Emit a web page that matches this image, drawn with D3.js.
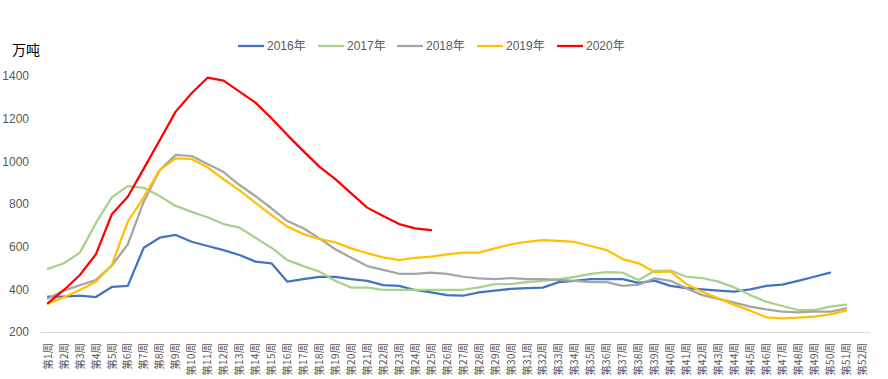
<!DOCTYPE html>
<html><head><meta charset="utf-8">
<script src="https://cdn.jsdelivr.net/npm/d3@7"></script>
<style>
body{margin:0;background:#fff;}
svg{display:block;font-family:"Liberation Sans","Noto Sans CJK SC",sans-serif;}
</style></head>
<body><svg id="chart" width="888" height="379"></svg>
<script>
const weeks = d3.range(1, 53).map(i => "第" + i + "周");
const seriesNames = ["2016年", "2017年", "2018年", "2019年", "2020年"];
const seriesColors = ["#4472C4", "#A9D18E", "#A5A5A5", "#FFC000", "#FF0000"];
const yTicks = [200, 400, 600, 800, 1000, 1200, 1400];

const v2016 = [366,366,370,364,411,416,595,642,655,623,603,584,561,530,522,436,448,458,458,448,440,420,416,397,386,373,370,386,394,402,406,408,434,440,448,448,448,430,441,416,406,400,394,389,400,416,422,440,459,478];
const v2017 = [496,522,572,710,831,884,876,837,791,763,738,706,689,642,595,537,509,483,440,408,408,397,397,397,397,397,398,409,424,424,434,440,448,458,472,481,478,444,486,488,459,453,436,409,373,342,322,303,303,319,328];
const v2018 = [357,394,419,444,511,611,811,959,1030,1025,988,950,889,837,780,720,686,639,588,548,509,491,473,473,478,472,459,451,448,453,448,448,444,440,434,434,416,422,451,440,405,373,355,338,319,306,295,292,295,295,311];
const v2019 = [333,363,397,436,514,717,831,959,1014,1011,972,916,864,805,748,694,659,636,620,592,569,550,537,548,553,564,572,572,592,611,623,631,627,622,603,584,542,522,481,484,424,389,358,327,300,269,264,267,272,283,300];
const v2020 = [335,397,467,564,752,834,966,1099,1233,1319,1392,1378,1327,1275,1202,1123,1048,975,917,850,783,744,706,686,678];
const allSeries = [v2016, v2017, v2018, v2019, v2020];

const svg = d3.select("#chart");
const x = d3.scaleBand().domain(weeks).range([40, 870]).padding(0);
const y = d3.scaleLinear().domain([200, 1400]).range([332, 76]);

// y axis
const yAxis = svg.append("g").attr("transform", "translate(29,0)")
  .call(d3.axisLeft(y).tickValues(yTicks).tickFormat(d3.format("d")).tickSize(0).tickPadding(0));
yAxis.select(".domain").remove();
yAxis.selectAll("text").attr("fill", "#595959").style("font-size", "12px")
  .style("font-family", "'Liberation Sans','Noto Sans CJK SC',sans-serif");

// x axis
const xAxis = svg.append("g").attr("transform", "translate(0,332)")
  .call(d3.axisBottom(x).tickSize(0).tickSizeOuter(0));
xAxis.select(".domain").attr("stroke", "#D9D9D9").attr("stroke-width", 1);
xAxis.selectAll("text")
  .attr("fill", "#595959")
  .style("font-size", "10.5px")
  .style("font-family", "'Noto Sans CJK SC',sans-serif")
  .attr("text-anchor", "end")
  .attr("dy", "0.35em")
  .attr("y", 0)
  .attr("transform", "translate(0,11) rotate(-90)")
  .attr("x", 0);

// unit label
svg.append("text").attr("x", 12).attr("y", 55).text("万吨")
  .attr("fill", "#000").style("font-size", "14px")
  .style("font-family", "'Noto Sans CJK SC',sans-serif");

// lines
const line = d3.line().x((d, i) => x(weeks[i]) + x.bandwidth() / 2).y(d => y(d));
allSeries.forEach((s, k) => {
  svg.append("path").datum(s).attr("d", line)
    .attr("fill", "none").attr("stroke", seriesColors[k])
    .attr("stroke-width", 2.25).attr("stroke-linejoin", "round").attr("stroke-linecap", "round");
});

// legend
const legendX = [238, 318, 397, 477, 557];
const lg = svg.append("g");
seriesNames.forEach((n, k) => {
  lg.append("line").attr("x1", legendX[k]).attr("x2", legendX[k] + 26)
    .attr("y1", 46).attr("y2", 46).attr("stroke", seriesColors[k]).attr("stroke-width", 2.25);
  lg.append("text").attr("x", legendX[k] + 29).attr("y", 50).text(n)
    .attr("fill", "#595959").style("font-size", "12px")
    .style("font-family", "'Liberation Sans','Noto Sans CJK SC',sans-serif");
});
</script></body></html>
